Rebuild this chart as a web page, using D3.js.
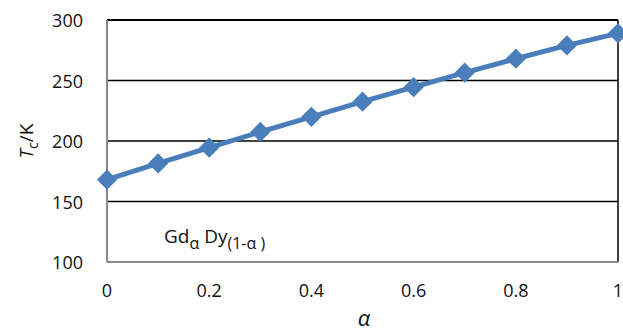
<!DOCTYPE html>
<html>
<head>
<meta charset="utf-8">
<script src="https://cdn.jsdelivr.net/npm/d3@7"></script>
<style>
  body { margin: 0; background: #fff; }
  text { font-family: "Open Sans", "Noto Sans", sans-serif; fill: #111; }
</style>
</head>
<body>
<div id="canvas"></div>
<script>
"use strict"

/* drawing size */
let svgWidth = 623;
let svgHeight = 332;

/* plot area */
let plotLeft = 107, plotRight = 618, plotTop = 20, plotBottom = 262;

/* data: composition alpha and Curie temperature */
let alpha = [0, 0.1, 0.2, 0.3, 0.4, 0.5, 0.6, 0.7, 0.8, 0.9, 1];
let tc = [168, 181.5, 194.5, 207.5, 220, 232.5, 244.5, 256.5, 268, 279, 289];

let xTicks = [0, 0.2, 0.4, 0.6, 0.8, 1];
let yTicks = [100, 150, 200, 250, 300];

let svg = d3.select("#canvas")
    .append("svg")
    .attr("width", svgWidth)
    .attr("height", svgHeight);

let xScale = d3.scaleLinear().domain([0, 1]).range([plotLeft, plotRight]);
let yScale = d3.scaleLinear().domain([100, 300]).range([plotBottom, plotTop]);

/* gridlines */
svg.selectAll(".grid")
    .data(yTicks.filter(d => d > 100))
    .join("line")
    .attr("x1", plotLeft)
    .attr("x2", plotRight)
    .attr("y1", d => yScale(d))
    .attr("y2", d => yScale(d))
    .attr("stroke", "black")
    .attr("stroke-width", d => d === 300 ? 2 : 1.5);

/* right border */
svg.append("line")
    .attr("x1", plotRight).attr("x2", plotRight)
    .attr("y1", plotTop).attr("y2", plotBottom)
    .attr("stroke", "black")
    .attr("stroke-width", 1.5);

/* axes (gray) */
svg.append("line")
    .attr("x1", plotLeft).attr("x2", plotRight)
    .attr("y1", plotBottom).attr("y2", plotBottom)
    .attr("stroke", "#888")
    .attr("stroke-width", 2);
svg.append("line")
    .attr("x1", plotLeft).attr("x2", plotLeft)
    .attr("y1", plotTop).attr("y2", plotBottom)
    .attr("stroke", "#888")
    .attr("stroke-width", 2);

/* tick labels */
svg.selectAll(".ylab")
    .data(yTicks)
    .join("text")
    .attr("x", 83)
    .attr("y", d => yScale(d) + 7)
    .attr("text-anchor", "end")
    .attr("font-size", 18)
    .text(d => d);

svg.selectAll(".xlab")
    .data(xTicks)
    .join("text")
    .attr("x", d => xScale(d))
    .attr("y", 297)
    .attr("text-anchor", "middle")
    .attr("font-size", 18)
    .text(d => d);

/* line and markers */
let pts = alpha.map((a, i) => [a, tc[i]]);

svg.append("path")
    .datum(pts)
    .attr("fill", "none")
    .attr("stroke", "#4a7ebb")
    .attr("stroke-width", 5)
    .attr("d", d3.line().x(d => xScale(d[0])).y(d => yScale(d[1])));

svg.selectAll(".mark")
    .data(pts)
    .join("path")
    .attr("transform", d => "translate(" + xScale(d[0]) + "," + yScale(d[1]) + ")")
    .attr("d", d3.symbol().type(d3.symbolDiamond2).size(260))
    .attr("fill", "#4a7ebb");

/* composition label */
let note = svg.append("text")
    .attr("x", 164)
    .attr("y", 243)
    .attr("font-size", 19);
note.append("tspan").text("Gd");
note.append("tspan").attr("dy", 6).attr("font-size", 16).text("α");
note.append("tspan").attr("dy", -6).text(" Dy");
note.append("tspan").attr("dy", 6).attr("font-size", 16).text("(1-α )");

/* axis titles */
let yTitle = svg.append("text")
    .attr("transform", "translate(33,141) rotate(-90)")
    .attr("text-anchor", "middle")
    .attr("font-size", 19);
yTitle.append("tspan").attr("font-style", "italic").text("T");
yTitle.append("tspan").attr("dy", 5).attr("font-size", 14).text("c");
yTitle.append("tspan").attr("dy", -5).text("/K");

svg.append("text")
    .attr("x", 364)
    .attr("y", 326)
    .attr("text-anchor", "middle")
    .attr("font-size", 22)
    .attr("font-style", "italic")
    .text("α");
</script>
</body>
</html>
